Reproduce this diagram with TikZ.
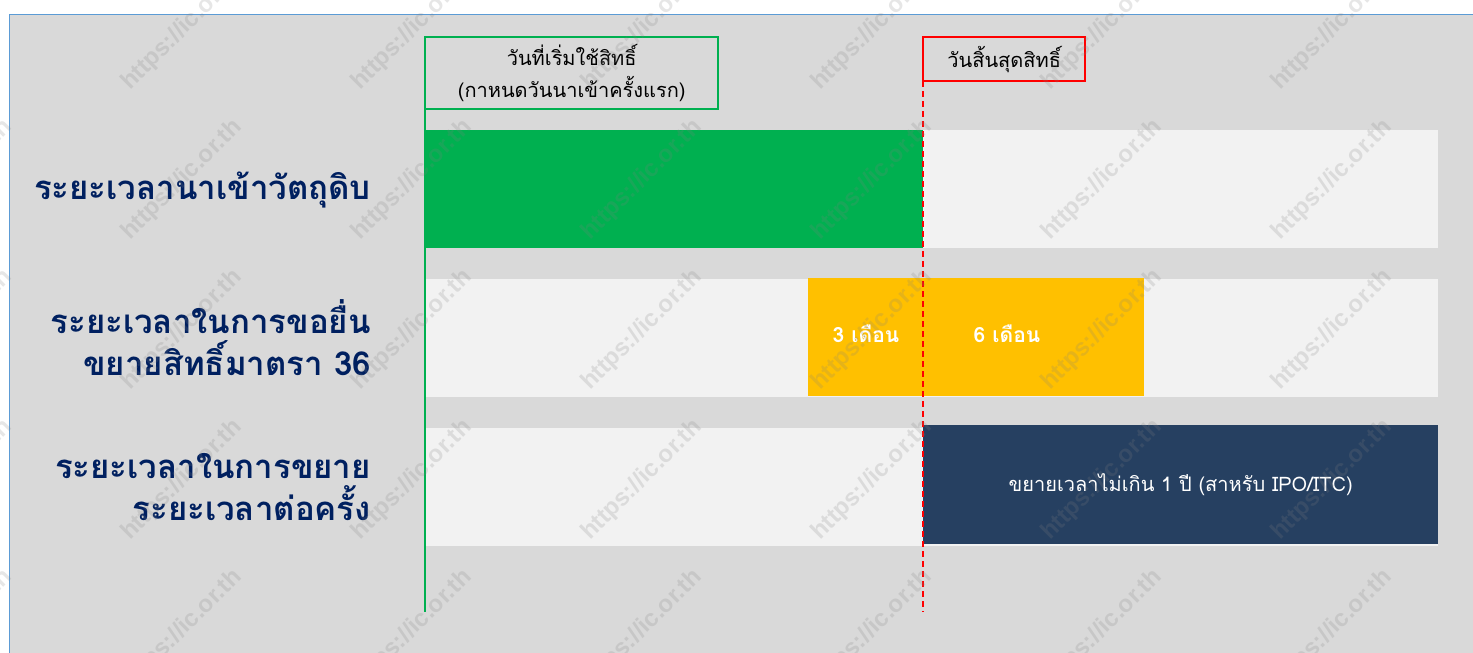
\documentclass[tikz,border=0pt]{standalone}
\usepackage{fontspec}
\usepackage{xcolor}
\usetikzlibrary{calc,positioning}
\newfontfamily\thaifont[Script=Thai]{Loma}
\newfontfamily\markfont{Liberation Sans}
\definecolor{bggray}{HTML}{D9D9D9}
\definecolor{barlight}{HTML}{F2F2F2}
\definecolor{startgreen}{HTML}{00B050}
\definecolor{endred}{HTML}{FF0000}
\definecolor{periodgold}{HTML}{FFC000}
\definecolor{extnavy}{HTML}{264061}
\definecolor{labelnavy}{HTML}{002060}
\definecolor{frameblue}{HTML}{5B9BD5}

\begin{document}
\begin{tikzpicture}[x=1pt,y=-1pt]
    \tikzstyle{lightbar}=[fill=barlight,draw=none,inner sep=0pt,anchor=north west,minimum width=1013pt,minimum height=118pt]
    \tikzstyle{fillbar}=[lightbar,minimum height=118pt]
    \tikzstyle{rowlabel}=[anchor=east,align=right,text=labelnavy,inner sep=0pt,font=\thaifont\bfseries\fontsize{33}{42}\selectfont]
    \tikzstyle{bartext}=[text=white,inner sep=0pt,font=\thaifont\bfseries\fontsize{21}{26}\selectfont]
    \tikzstyle{datebox}=[anchor=north west,inner sep=0pt,align=center,font=\thaifont\fontsize{20}{32}\selectfont]
    \tikzstyle{wmark}=[rotate=45,text=black!50,opacity=0.2,inner sep=0pt,font=\markfont\bfseries\fontsize{24}{24}\selectfont]

    \useasboundingbox (0,0) rectangle (1473,653);
    \fill[bggray] (9,14) rectangle (1473,653);
    \draw[frameblue,line width=1pt] (9,653) -- (9,14) -- (1473,14);

    % light rows
    \node[lightbar] (row1) at (425,130) {};
    \node[lightbar] (row2) at (425,279) {};
    \node[lightbar] (row3) at (425,428) {};

    % coloured periods
    \node[fillbar,fill=startgreen,minimum width=498pt] (import) at (425,130) {};
    \node[fillbar,fill=periodgold,minimum width=336pt] (claim) at (808,278) {};
    \node[fillbar,fill=extnavy,minimum width=515pt,minimum height=119pt] (extend) at (923,425) {};

    \node[bartext] (three) at ($(claim.west) + (58,-3)$) {3 เดือน};
    \node[bartext] (six) at ($(claim.west) + (199,-3)$) {6 เดือน};
    \node[bartext,font=\thaifont\fontsize{20}{24}\selectfont] (extendtxt) at (extend.center) {ขยายเวลาไม่เกิน 1 ปี (สาหรับ IPO/ITC)};

    % start and end of the right
    \node[datebox,minimum width=293pt,minimum height=72pt] (startbox) at (425,37) {วันที่เริ่มใช้สิทธิ์\\(กาหนดวันนาเข้าครั้งแรก)};
    \node[datebox,minimum width=162pt,minimum height=44pt] (endbox) at (923,37) {วันสิ้นสุดสิทธิ์};
    \draw[startgreen,line width=2pt] (startbox.north west) rectangle (startbox.south east);
    \draw[endred,line width=2pt] (endbox.north west) rectangle (endbox.south east);
    \coordinate (startfoot) at (425,612);
    \coordinate (endfoot) at (923,612);
    \draw[startgreen,line width=1.5pt] (startbox.south west) -- (startfoot);
    \draw[endred,line width=1.6pt,dash pattern=on 6pt off 4pt] (endbox.south west) -- (endfoot);

    % row titles
    \node[rowlabel] (lab1) at (371,190) {ระยะเวลานาเข้าวัตถุดิบ};
    \node[rowlabel] (lab2) at (371,338) {ระยะเวลาในการขอยื่น\\ขยายสิทธิ์มาตรา 36};
    \node[rowlabel] (lab3) at (371,487) {ระยะเวลาในการขยาย\\ระยะเวลาต่อครั้ง};

    % watermark
    \foreach \col in {0,...,6}
        \foreach \row in {0,...,4}
            \node[wmark] (wm-\col-\row) at ({-48+230*\col},{30+150*\row}) {https://ic.or.th};

\end{tikzpicture}
\end{document}
